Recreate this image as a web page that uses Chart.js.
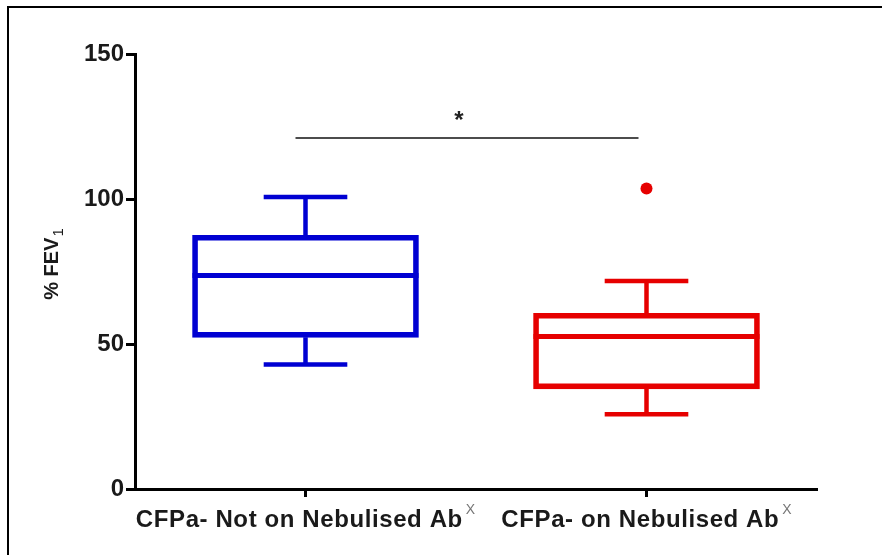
<!DOCTYPE html>
<html>
<head>
<meta charset="utf-8">
<script src="https://cdn.jsdelivr.net/npm/chart.js@4/dist/chart.umd.min.js"></script>
<style>
  html, body { margin: 0; padding: 0; background: #fff; }
  #wrap { position: relative; width: 882px; height: 555px; }
</style>
</head>
<body>
<div id="wrap"><canvas id="c" width="882" height="555"></canvas></div>
<script>
// Groups compared
const groups = ['CFPa- Not on Nebulised Ab', 'CFPa- on Nebulised Ab'];
const groupSuffix = ['X', 'X'];

// Box-and-whisker summary per group (% FEV1)
const whiskerLow  = [42.9, 25.8];
const q1          = [52.3, 34.5];
const median      = [73.6, 52.6];
const q3          = [87.5, 60.6];
const whiskerHigh = [100.7, 71.7];
// Points beyond the whiskers
const outliers    = [null, 103.6];

// Significance bracket between the two groups
const sigLevel = 121;
const sigLabel = '*';

const yTicks = [0, 50, 100, 150];

const groupColors = ['#0000d2', '#e60000'];

// Median line, whisker stems and caps drawn on the chart's own scales
const boxExtras = {
  id: 'boxExtras',
  afterDatasetsDraw(chart) {
    const { ctx, scales: { x, y } } = chart;
    const meta = chart.getDatasetMeta(0);
    ctx.save();
    ctx.lineCap = 'butt';
    groups.forEach((g, i) => {
      const bar = meta.data[i];
      const half = bar.width / 2;
      const cx = x.getPixelForValue(i);
      ctx.strokeStyle = groupColors[i];
      // median
      ctx.lineWidth = 5;
      ctx.beginPath();
      ctx.moveTo(cx - half, y.getPixelForValue(median[i]));
      ctx.lineTo(cx + half, y.getPixelForValue(median[i]));
      ctx.stroke();
      // stems
      ctx.lineWidth = 4.5;
      ctx.beginPath();
      ctx.moveTo(cx, y.getPixelForValue(q3[i]));
      ctx.lineTo(cx, y.getPixelForValue(whiskerHigh[i]));
      ctx.moveTo(cx, y.getPixelForValue(q1[i]));
      ctx.lineTo(cx, y.getPixelForValue(whiskerLow[i]));
      ctx.stroke();
      // caps
      const capHalf = half * 0.37;
      ctx.lineWidth = 4.5;
      ctx.beginPath();
      ctx.moveTo(cx - capHalf, y.getPixelForValue(whiskerHigh[i]));
      ctx.lineTo(cx + capHalf, y.getPixelForValue(whiskerHigh[i]));
      ctx.moveTo(cx - capHalf, y.getPixelForValue(whiskerLow[i]));
      ctx.lineTo(cx + capHalf, y.getPixelForValue(whiskerLow[i]));
      ctx.stroke();
    });
    ctx.restore();
  }
};

// Significance bar with its star
const sigBar = {
  id: 'sigBar',
  afterDraw(chart) {
    const { ctx, scales: { x, y } } = chart;
    const x0 = x.getPixelForValue(0) - 10;
    const x1 = x.getPixelForValue(1) - 8;
    const yy = y.getPixelForValue(sigLevel);
    ctx.save();
    ctx.strokeStyle = '#111';
    ctx.lineWidth = 1.5;
    ctx.beginPath();
    ctx.moveTo(x0, yy);
    ctx.lineTo(x1, yy);
    ctx.stroke();
    ctx.fillStyle = '#222';
    ctx.font = 'bold 24px "Liberation Sans", Arial, sans-serif';
    ctx.textAlign = 'center';
    ctx.textBaseline = 'alphabetic';
    ctx.fillText(sigLabel, (x0 + x1) / 2 - 8, yy - 10);
    ctx.restore();
  }
};

// Group labels with superscript marks, and the y title with subscript
const labelsAndTitle = {
  id: 'labelsAndTitle',
  afterDraw(chart) {
    const { ctx, scales: { x, y }, chartArea } = chart;
    ctx.save();
    const mainFont = 'bold 24px "Liberation Sans", Arial, sans-serif';
    const supFont = '14px "Liberation Sans", Arial, sans-serif';
    ctx.textBaseline = 'alphabetic';
    ctx.textAlign = 'left';
    groups.forEach((g, i) => {
      ctx.font = mainFont;
      ctx.letterSpacing = '0.6px';
      const w1 = ctx.measureText(g).width;
      ctx.letterSpacing = '0px';
      ctx.font = supFont;
      const w2 = ctx.measureText(groupSuffix[i]).width;
      const cx = x.getPixelForValue(i);
      const left = cx - (w1 + 3 + w2) / 2;
      const base = chartArea.bottom + 38;
      ctx.fillStyle = '#1a1a1a';
      ctx.font = mainFont;
      ctx.letterSpacing = '0.6px';
      ctx.fillText(g, left, base);
      ctx.letterSpacing = '0px';
      ctx.fillStyle = '#777';
      ctx.font = supFont;
      ctx.fillText(groupSuffix[i], left + w1 + 3, base - 13);
    });
    // y-axis title
    const ty = (chartArea.top + chartArea.bottom) / 2 - 7;
    ctx.translate(58, ty);
    ctx.rotate(-Math.PI / 2);
    ctx.fillStyle = '#1a1a1a';
    ctx.font = 'bold 20px "Liberation Sans", Arial, sans-serif';
    const t = '% FEV';
    const tw = ctx.measureText(t).width;
    ctx.font = '15px "Liberation Sans", Arial, sans-serif';
    const sw = ctx.measureText('1').width;
    const start = -(tw + sw) / 2;
    ctx.font = 'bold 20px "Liberation Sans", Arial, sans-serif';
    ctx.fillText(t, start, 0);
    ctx.font = '15px "Liberation Sans", Arial, sans-serif';
    ctx.fillText('1', start + tw + 1, 5);
    ctx.restore();
  }
};

// Outer frame (left and top edges)
const frame = {
  id: 'frame',
  beforeDraw(chart) {
    const { ctx } = chart;
    ctx.save();
    ctx.fillStyle = '#fff';
    ctx.fillRect(0, 0, chart.width, chart.height);
    ctx.strokeStyle = '#000';
    ctx.lineWidth = 2;
    ctx.beginPath();
    ctx.moveTo(8, 555);
    ctx.lineTo(8, 7);
    ctx.lineTo(882, 7);
    ctx.stroke();
    ctx.restore();
  }
};

new Chart(document.getElementById('c'), {
  data: {
    labels: groups,
    datasets: [
      {
        type: 'bar',
        data: groups.map((g, i) => [q1[i], q3[i]]),
        backgroundColor: 'rgba(0,0,0,0)',
        borderColor: groupColors,
        borderWidth: 5,
        borderSkipped: false,
        barThickness: 226,
        grouped: false,
        order: 2
      },
      {
        type: 'line',
        data: outliers,
        showLine: false,
        pointRadius: 6,
        pointHoverRadius: 6,
        pointBackgroundColor: groupColors[1],
        pointBorderColor: groupColors[1],
        pointBorderWidth: 0,
        order: 1
      }
    ]
  },
  options: {
    responsive: false,
    animation: false,
    events: [],
    layout: { padding: { left: 0, right: 65, top: 54, bottom: 0 } },
    plugins: { legend: { display: false }, tooltip: { enabled: false } },
    scales: {
      x: {
        type: 'category',
        offset: true,
        grid: { display: true, drawOnChartArea: false, offset: false, tickLength: 8, tickWidth: 3, tickColor: '#000' },
        border: { display: true, color: '#000', width: 3 },
        ticks: { display: false },
        afterFit(s) { s.height = 66; }
      },
      y: {
        min: 0,
        max: 150,
        afterBuildTicks(s) { s.ticks = yTicks.map(v => ({ value: v })); },
        grid: { display: true, drawOnChartArea: false, tickLength: 9, tickWidth: 3, tickColor: '#000' },
        border: { display: true, color: '#000', width: 3 },
        ticks: {
          color: '#1a1a1a',
          padding: 2,
          font: { family: '"Liberation Sans", Arial, sans-serif', size: 24, weight: 'bold' }
        },
        afterFit(s) { s.width = 135; }
      }
    }
  },
  plugins: [frame, boxExtras, sigBar, labelsAndTitle]
});
</script>
</body>
</html>
